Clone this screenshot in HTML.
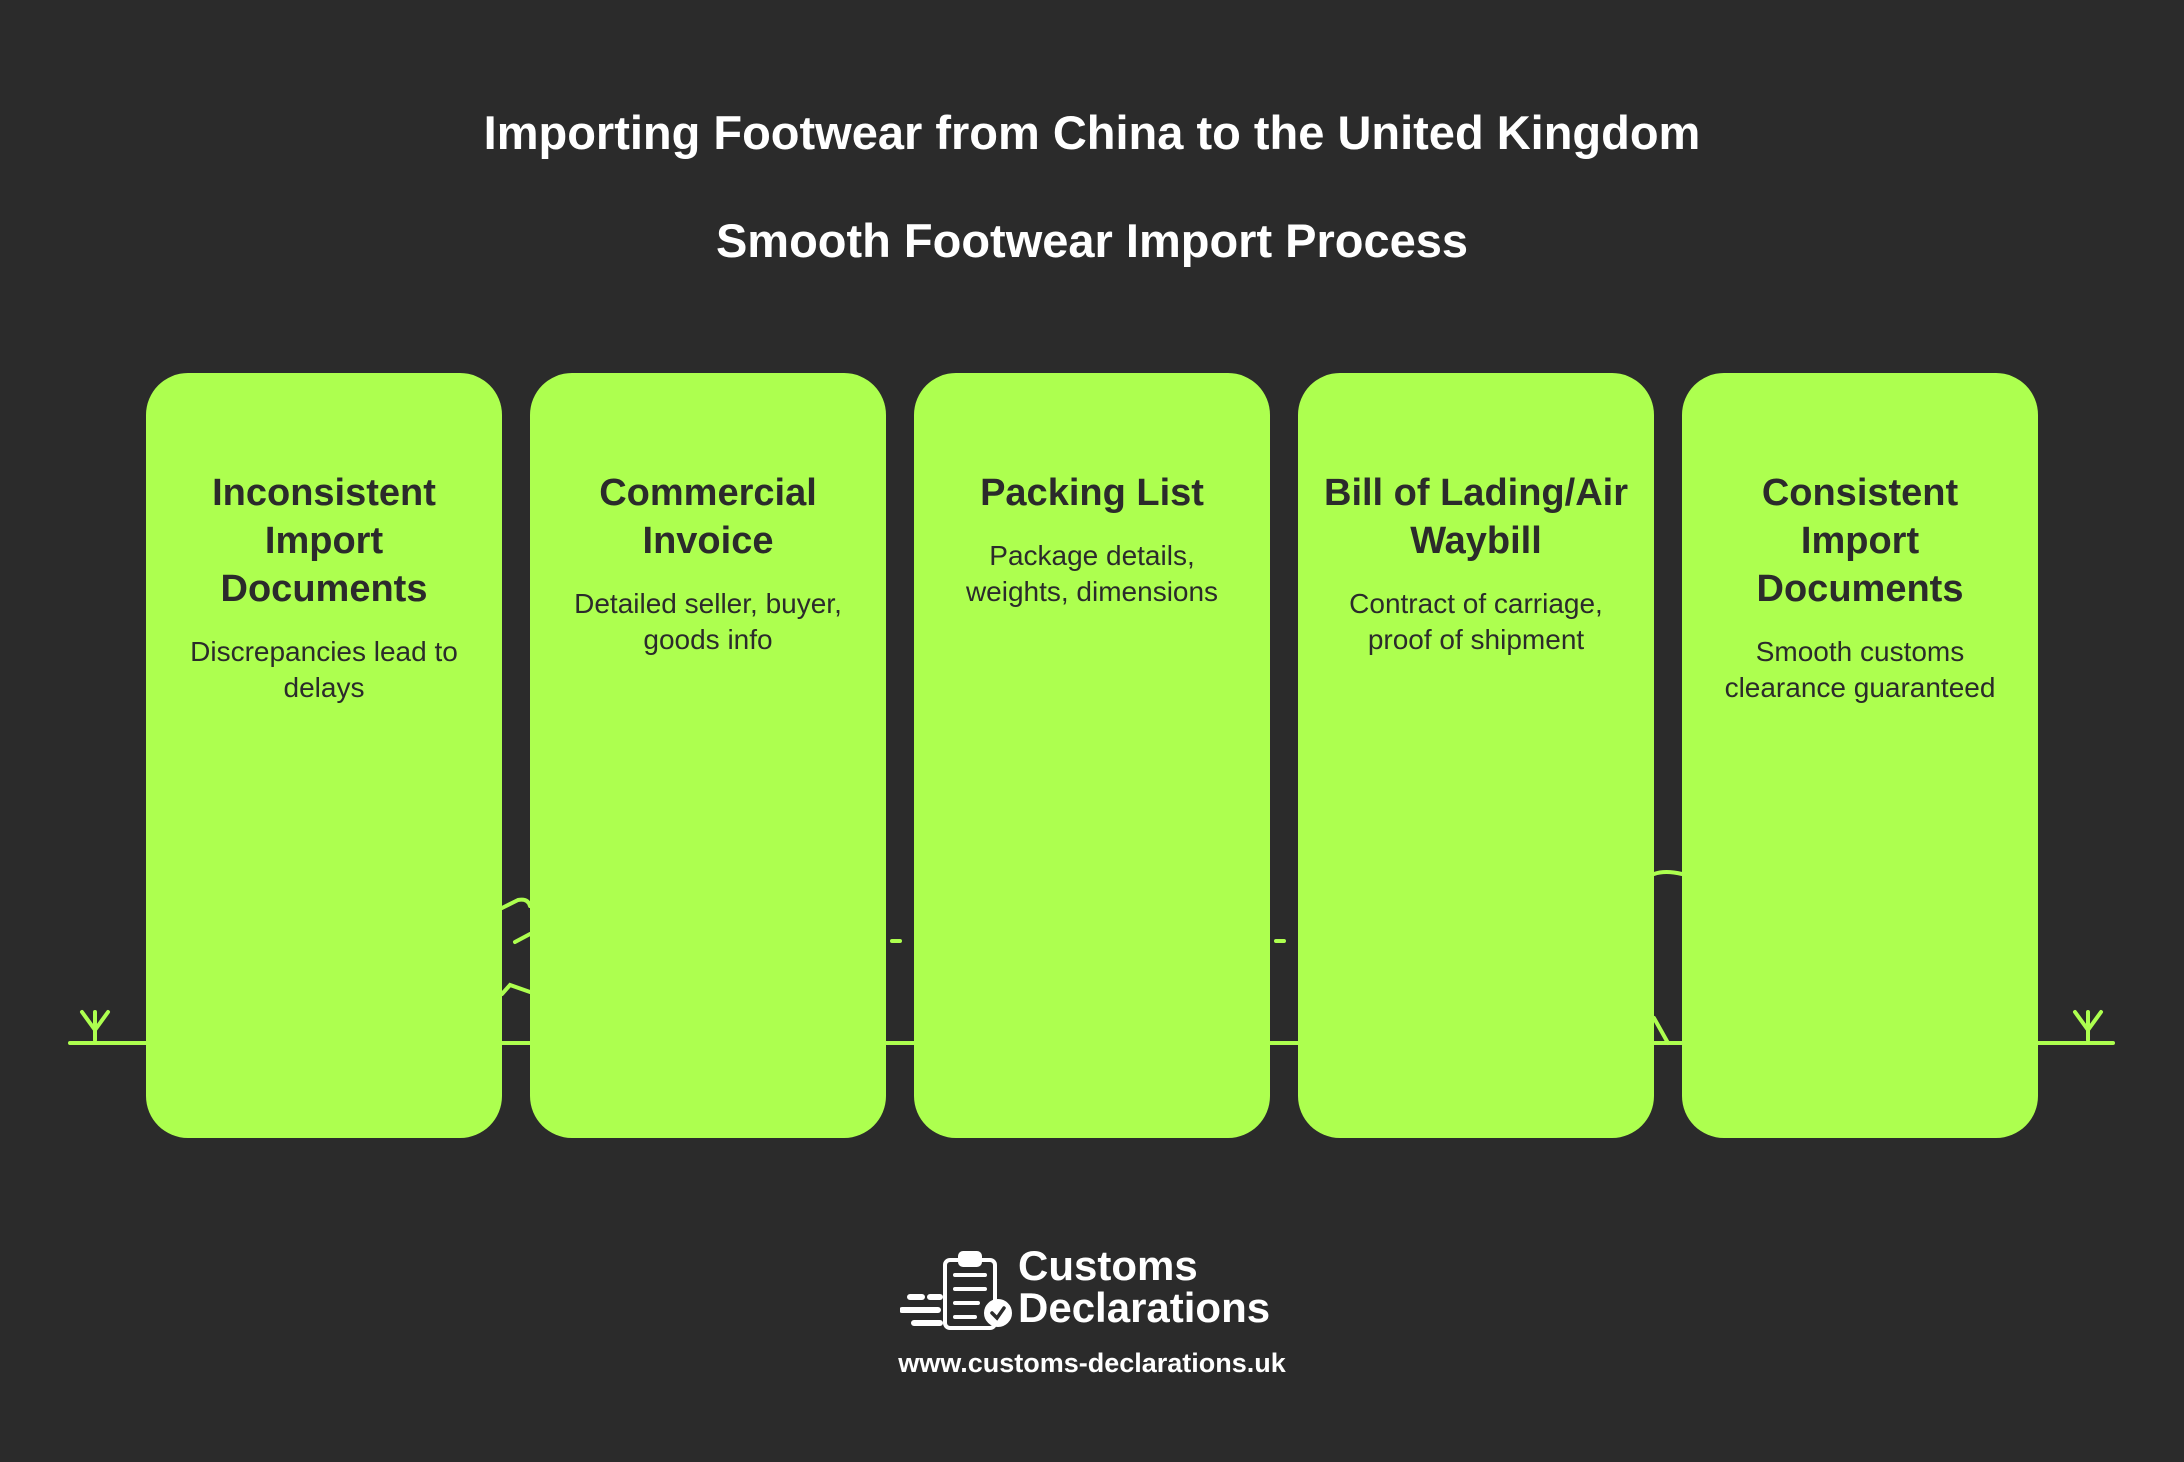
<!DOCTYPE html>
<html><head><meta charset="utf-8"><style>
body{margin:0;width:2184px;height:1462px;background:#2b2b2b;overflow:hidden;position:relative;font-family:"Liberation Sans",sans-serif}
.t{position:absolute;left:0;width:2184px;text-align:center;color:#fff;font-weight:bold}
.box{position:absolute;top:373px;width:356px;height:765px;background:#adff4f;border-radius:42px;text-align:center;color:#2b2b2b}
.box h3{margin:96px 24px 0;font-size:38px;line-height:48px;font-weight:bold}
.box p{margin:21px 28px 0;font-size:28px;line-height:36px}
</style></head><body>
<div class="t" style="top:105px;font-size:47px">Importing Footwear from China to the United Kingdom</div>
<div class="t" style="top:213px;font-size:47px">Smooth Footwear Import Process</div>
<svg width="2184" height="1462" style="position:absolute;left:0;top:0" fill="none" stroke="#adff4f" stroke-width="4" stroke-linecap="round">
<line x1="70" y1="1043" x2="2113" y2="1043"/>
<path d="M95 1040 V1012 M95 1030 L82 1012 M95 1030 L108 1012"/>
<path d="M2088 1040 V1012 M2088 1030 L2075 1012 M2088 1030 L2101 1012"/>
<path d="M502 908 L518 900 Q528 898 530 906"/>
<path d="M515 942 L530 934"/>
<path d="M502 994 L510 985 L530 992"/>
<path d="M892 941 H900 M1276 941 H1284"/>
<path d="M1654 874 Q1665 870 1682 874"/>
<path d="M1654 1018 L1668 1043"/>
</svg>
<div class="box" style="left:146px"><h3>Inconsistent Import Documents</h3><p>Discrepancies lead to delays</p></div>
<div class="box" style="left:530px"><h3>Commercial Invoice</h3><p>Detailed seller, buyer, goods info</p></div>
<div class="box" style="left:914px"><h3>Packing List</h3><p>Package details, weights, dimensions</p></div>
<div class="box" style="left:1298px"><h3>Bill of Lading/Air Waybill</h3><p>Contract of carriage, proof of shipment</p></div>
<div class="box" style="left:1682px"><h3>Consistent Import Documents</h3><p>Smooth customs clearance guaranteed</p></div>
<svg width="120" height="90" style="position:absolute;left:900px;top:1245px" fill="none" stroke="#fff" stroke-width="4" stroke-linecap="round">
<rect x="45" y="15" width="50" height="68" rx="5"/>
<rect x="60" y="8" width="20" height="12" rx="3" fill="#fff"/>
<path d="M55 30 H85 M55 44 H85 M55 58 H78 M55 72 H75"/>
<circle cx="98" cy="68" r="12" fill="#fff" stroke="#fff"/>
<path d="M92 68 L97 73 L104 63" stroke="#2b2b2b" stroke-width="3.5"/>
<path d="M10 52 H22 M30 52 H40 M2 65 H38 M14 78 H40" stroke-width="6"/>
</svg>
<div style="position:absolute;left:1018px;top:1245px;color:#fff;font-weight:bold;font-size:42px;line-height:42px">Customs<br>Declarations</div>
<div class="t" style="top:1348px;font-size:27px">www.customs-declarations.uk</div>
</body></html>
